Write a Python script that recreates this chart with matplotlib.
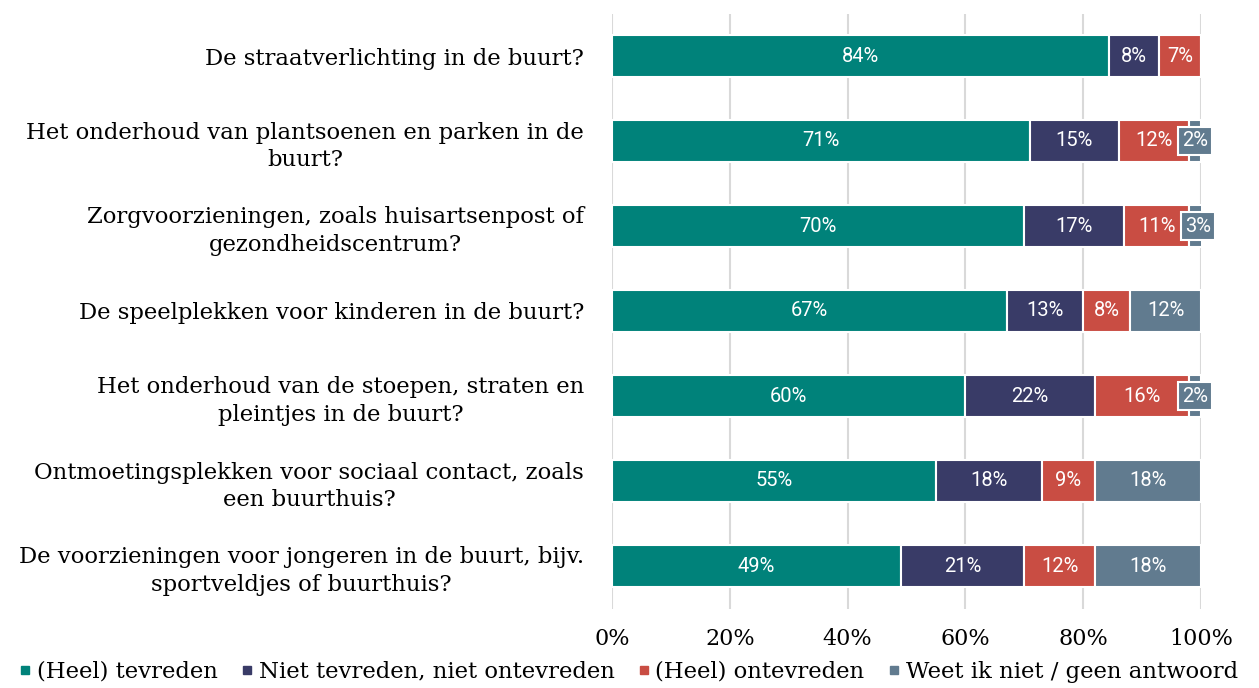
import numpy as np
import matplotlib.pyplot as plt
from matplotlib.lines import Line2D

questions = [
    "De straatverlichting in de buurt?",
    "Het onderhoud van plantsoenen en parken in de\nbuurt?",
    "Zorgvoorzieningen, zoals huisartsenpost of\ngezondheidscentrum?",
    "De speelplekken voor kinderen in de buurt?",
    "Het onderhoud van de stoepen, straten en\npleintjes in de buurt?",
    "Ontmoetingsplekken voor sociaal contact, zoals\neen buurthuis?",
    "De voorzieningen voor jongeren in de buurt, bijv.\nsportveldjes of buurthuis?",
]
series = ["(Heel) tevreden", "Niet tevreden, niet ontevreden",
          "(Heel) ontevreden", "Weet ik niet / geen antwoord"]
tevreden = [84.4, 71, 70, 67, 60, 55, 49]
neutraal = [8.4, 15, 17, 13, 22, 18, 21]
ontevreden = [7.2, 12, 11, 8, 16, 9, 12]
weet_niet = [0, 2, 3, 12, 2, 18, 18]
ticks = [0, 20, 40, 60, 80, 100]

colors = ["#00827a", "#393b67", "#c94d43", "#617b8f"]
serif = "DejaVu Serif"
sans = "Roboto"

fig = plt.figure(figsize=(12.59, 6.88), dpi=100)
ax = fig.add_axes([612 / 1259, 1 - 608.5 / 688, 589 / 1259, 595 / 688])

y = np.arange(len(questions))
left = np.zeros(len(questions))
for vals, col in zip([tevreden, neutraal, ontevreden, weet_niet], colors):
    vals = np.array(vals, dtype=float)
    ax.barh(y, vals, left=left, height=0.5, color=col, edgecolor="white",
            linewidth=1.5, zorder=3)
    for yi, l, v in zip(y, left, vals):
        if v <= 0:
            continue
        cx = l + v / 2
        if v < 5:
            ax.text(cx, yi, f"{v:.0f}%", ha="center", va="center", color="white",
                    fontsize=14.5, family=sans, zorder=5,
                    bbox=dict(boxstyle="square,pad=0.2", fc=col, ec="white", lw=1.5))
        else:
            ax.text(cx, yi, f"{v:.0f}%", ha="center", va="center", color="white",
                    fontsize=14.5, family=sans, zorder=4)
    left += vals

ax.set_xlim(0, 100)
ax.set_ylim(len(questions) - 0.5, -0.5)
ax.set_xticks(ticks)
ax.set_xticklabels([f"{t}%" for t in ticks], family=serif, fontsize=16)
ax.set_yticks(y)
ax.set_yticklabels(questions, family=serif, fontsize=16.4, multialignment="center",
                   linespacing=1.35)
ax.tick_params(length=0, pad=20, axis="y")
ax.tick_params(length=0, pad=14, axis="x")
ax.grid(axis="x", color="#d9d9d9", lw=1.5, zorder=0)
for s in ax.spines.values():
    s.set_visible(False)

handles = [Line2D([], [], marker="s", ls="", color=c, markersize=6) for c in colors]
fig.legend(handles, series, loc="lower center", bbox_to_anchor=(0.498, -0.022),
           ncol=4, frameon=False, prop=dict(family=serif, size=16.4),
           handletextpad=0.1, columnspacing=0.9, handlelength=0.8)

fig.savefig("out.png", dpi=100)
